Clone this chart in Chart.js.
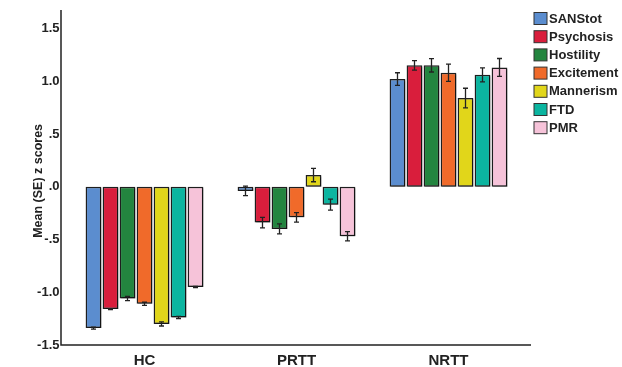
<!DOCTYPE html>
<html>
<head>
<meta charset="utf-8">
<script src="https://cdn.jsdelivr.net/npm/chart.js@4.4.1/dist/chart.umd.min.js"></script>
<style>
  html, body { margin: 0; padding: 0; background: #fff; }
  #wrap { width: 622px; height: 367px; }
</style>
</head>
<body>
<div id="wrap"><canvas id="barChart" width="622" height="367"></canvas></div>
<script>
let groups = ["HC", "PRTT", "NRTT"];
let measures = ["SANStot", "Psychosis", "Hostility", "Excitement", "Mannerism", "FTD", "PMR"];
let colors = ["#5b8dcf", "#d91e3c", "#23853f", "#f06a2a", "#e1d61a", "#0bb5a0", "#f6c3d9"];

// mean z scores, one list per measure: [HC, PRTT, NRTT]
let sanstot = [-1.34, -0.04, 1.02];
let psychosis = [-1.16, -0.34, 1.15];
let hostility = [-1.06, -0.40, 1.15];
let excitement = [-1.11, -0.29, 1.08];
let mannerism = [-1.30, 0.11, 0.84];
let ftd = [-1.24, -0.17, 1.06];
let pmr = [-0.95, -0.47, 1.13];

// standard errors
let sanstot_se = [0.01, 0.045, 0.06];
let psychosis_se = [0.005, 0.05, 0.045];
let hostility_se = [0.02, 0.047, 0.063];
let excitement_se = [0.015, 0.045, 0.082];
let mannerism_se = [0.02, 0.063, 0.093];
let ftd_se = [0.01, 0.052, 0.066];
let pmr_se = [0.005, 0.044, 0.085];

let yTicks = [-1.5, -1.0, -0.5, 0, 0.5, 1.0, 1.5];

let means = [sanstot, psychosis, hostility, excitement, mannerism, ftd, pmr];
let errors = [sanstot_se, psychosis_se, hostility_se, excitement_se, mannerism_se, ftd_se, pmr_se];

let datasets = [];
for (let i = 0; i < measures.length; i++) {
    datasets.push({
        label: measures[i],
        data: means[i],
        se: errors[i],
        backgroundColor: colors[i],
        borderColor: "#1e1e1e",
        borderWidth: 1.5,
        borderSkipped: false,
        categoryPercentage: 0.783,
        barPercentage: 0.93
    });
}

function fmtTick(v) {
    let s = Math.abs(v).toFixed(1);
    if (s.charAt(0) === "0") s = s.substring(1);
    return v < 0 ? "-" + s : s;
}

// soft grey drop shadow behind the bars, like the original
let barShadow = {
    id: "barShadow",
    beforeDatasetsDraw(chart) {
        let ctx = chart.ctx;
        ctx.save();
        ctx.shadowColor = "rgba(0,0,0,0.35)";
        ctx.shadowOffsetX = 1.5;
        ctx.shadowOffsetY = 1.5;
        ctx.shadowBlur = 1;
    },
    afterDatasetsDraw(chart) {
        chart.ctx.restore();
    }
};

let errorBars = {
    id: "errorBars",
    afterDatasetsDraw(chart) {
        let ctx = chart.ctx;
        let y = chart.scales.y;
        ctx.save();
        ctx.strokeStyle = "#222";
        ctx.lineWidth = 1.3;
        chart.data.datasets.forEach((ds, i) => {
            chart.getDatasetMeta(i).data.forEach((bar, j) => {
                let v = ds.data[j];
                let top = y.getPixelForValue(v + ds.se[j]);
                let bot = y.getPixelForValue(v - ds.se[j]);
                ctx.beginPath();
                ctx.moveTo(bar.x, top); ctx.lineTo(bar.x, bot);
                ctx.moveTo(bar.x - 2.5, top); ctx.lineTo(bar.x + 2.5, top);
                ctx.moveTo(bar.x - 2.5, bot); ctx.lineTo(bar.x + 2.5, bot);
                ctx.stroke();
            });
        });
        ctx.restore();
    }
};

let axesAndLegend = {
    id: "axesAndLegend",
    afterDraw(chart) {
        let ctx = chart.ctx;
        let a = chart.chartArea;
        ctx.save();
        ctx.strokeStyle = "#222";
        ctx.lineWidth = 1.5;
        ctx.beginPath();
        ctx.moveTo(61, 10);
        ctx.lineTo(61, a.bottom);
        ctx.lineTo(531, a.bottom);
        ctx.stroke();

        ctx.font = "bold 13px 'Liberation Sans', Arial, sans-serif";
        ctx.textBaseline = "middle";
        ctx.textAlign = "left";
        for (let i = 0; i < measures.length; i++) {
            let ly = 18.5 + i * 18.2;
            ctx.fillStyle = colors[i];
            ctx.fillRect(534, ly - 6, 13, 12);
            ctx.lineWidth = 1;
            ctx.strokeStyle = "#333";
            ctx.strokeRect(534, ly - 6, 13, 12);
            ctx.fillStyle = "#222";
            ctx.fillText(measures[i], 549, ly + 0.5);
        }
        ctx.restore();
    }
};

let ctx1 = document.getElementById("barChart");
let barChart = new Chart(ctx1, {
    type: "bar",
    data: { labels: groups, datasets: datasets },
    options: {
        responsive: false,
        maintainAspectRatio: false,
        animation: false,
        layout: { padding: { top: 5, right: 97.5, left: 0, bottom: 0 } },
        plugins: { legend: { display: false }, tooltip: { enabled: false } },
        scales: {
            x: {
                grid: { display: false, drawTicks: false },
                border: { display: false },
                ticks: {
                    color: "#222",
                    padding: 7,
                    font: { family: "'Liberation Sans', Arial, sans-serif", size: 15, weight: "bold" }
                },
                afterFit(scale) { scale.height = 22; }
            },
            y: {
                min: -1.5,
                max: 1.61,
                grid: { display: false, drawTicks: false },
                border: { display: false },
                afterBuildTicks(scale) { scale.ticks = yTicks.map(v => ({ value: v })); },
                ticks: {
                    color: "#222",
                    padding: 9,
                    callback: fmtTick,
                    font: { family: "'Liberation Sans', Arial, sans-serif", size: 13, weight: "bold" }
                },
                title: {
                    display: true,
                    text: "Mean (SE) z scores",
                    color: "#222",
                    padding: { top: 31, bottom: 0 },
                    font: { family: "'Liberation Sans', Arial, sans-serif", size: 12.5, weight: "bold" }
                },
                afterFit(scale) { scale.width = 68.5; }
            }
        }
    },
    plugins: [barShadow, errorBars, axesAndLegend]
});
</script>
</body>
</html>
